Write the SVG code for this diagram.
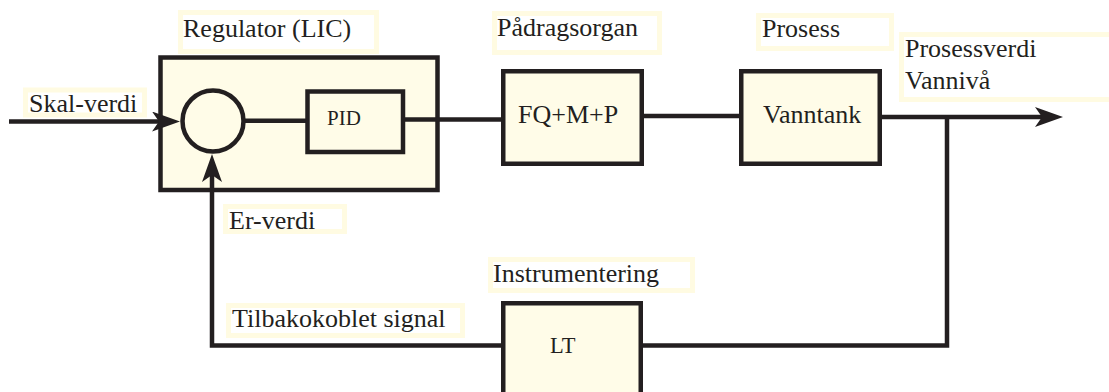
<svg xmlns="http://www.w3.org/2000/svg" width="1109" height="392" viewBox="0 0 1109 392">
  <style>
    .box { fill: #fffce8; stroke: #231f20; stroke-width: 4.5; }
    .lbl { fill: #ffffff; stroke: #fffbe2; stroke-width: 5; }
    .wire { fill: none; stroke: #231f20; stroke-width: 4.5; stroke-linejoin: miter; }
    text { font-family: "Liberation Serif", "Times New Roman", serif; font-size: 26px; fill: #231f20; }
    .small { font-size: 21px; }
  </style>
  <defs>
    <marker id="arr" viewBox="0 0 28 20" refX="8" refY="10" markerWidth="28" markerHeight="20" orient="auto" markerUnits="userSpaceOnUse">
      <path d="M0 0 L28 10 L0 20 L7 10 Z" fill="#231f20"/>
    </marker>
  </defs>

  <rect width="1109" height="392" fill="#ffffff"/>

  <g id="regulator">
    <rect class="box" x="160.5" y="57.5" width="277" height="132.5"/>
  </g>

  <g id="connectors">
    <path class="wire" d="M9 121.5 H160" marker-end="url(#arr)"/>
    <path class="wire" d="M244 120.8 H306"/>
    <path class="wire" d="M404 119.5 H502"/>
    <path class="wire" d="M642 116 H740"/>
    <path class="wire" d="M880 117 H1043" marker-end="url(#arr)"/>
    <path class="wire" d="M947 117 V345.5 H212 V174" marker-end="url(#arr)"/>
  </g>

  <g id="sum">
    <circle class="box" cx="213" cy="121" r="30.5"/>
  </g>

  <g id="pid">
    <rect class="box" x="307.5" y="91.5" width="95.5" height="60.5"/>
    <text class="small" x="327" y="125">PID</text>
  </g>

  <g id="padrag">
    <rect class="box" x="503.25" y="71.25" width="138.5" height="92.5"/>
    <text x="518" y="123">FQ+M+P</text>
  </g>

  <g id="vanntank">
    <rect class="box" x="741.25" y="71.25" width="138.5" height="92.5"/>
    <text x="763" y="123">Vanntank</text>
  </g>

  <g id="lt">
    <rect class="box" x="503.25" y="303.25" width="137.5" height="100"/>
    <text x="550" y="353" style="font-size:22.5px">LT</text>
  </g>

  <g id="label-regulator">
    <rect class="lbl" x="180.5" y="12.5" width="196" height="39"/>
    <text x="183" y="36.5">Regulator (LIC)</text>
  </g>
  <g id="label-skal">
    <rect class="lbl" x="25.5" y="90" width="119" height="25"/>
    <text x="29" y="112">Skal-verdi</text>
  </g>
  <g id="label-padrag">
    <rect class="lbl" x="494.5" y="13.5" width="165" height="39"/>
    <text x="497" y="36">Pådragsorgan</text>
  </g>
  <g id="label-prosess">
    <rect class="lbl" x="758.5" y="15.5" width="133" height="33"/>
    <text x="762" y="37">Prosess</text>
  </g>
  <g id="label-prosessverdi">
    <rect class="lbl" x="901.5" y="34.5" width="220" height="65"/>
    <text x="905" y="57">Prosessverdi</text>
    <text x="905" y="89">Vannivå</text>
  </g>
  <g id="label-er">
    <rect class="lbl" x="225.5" y="206.5" width="119" height="25"/>
    <text x="229" y="229">Er-verdi</text>
  </g>
  <g id="label-tilbake">
    <rect class="lbl" x="228.5" y="305.5" width="234" height="30"/>
    <text x="232" y="327">Tilbakokoblet signal</text>
  </g>
  <g id="label-instr">
    <rect class="lbl" x="490.5" y="259.5" width="202" height="31"/>
    <text x="493" y="282">Instrumentering</text>
  </g>
</svg>
